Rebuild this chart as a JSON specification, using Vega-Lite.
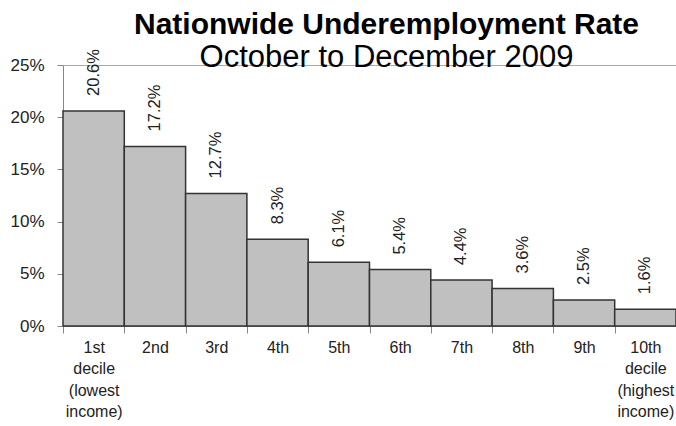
{
  "$schema": "https://vega.github.io/schema/vega-lite/v6.json",
  "width": 613,
  "height": 261,
  "autosize": {"type": "none"},
  "padding": {"left": 63, "top": 65, "right": 0, "bottom": 100},
  "config": {
    "font": "Liberation Sans",
    "view": {"stroke": null},
    "axis": {"labelFont": "Liberation Sans", "labelColor": "#222", "domainColor": "#888", "tickColor": "#888"}
  },
  "title": {
    "text": "Nationwide Underemployment Rate",
    "subtitle": "October to December 2009",
    "anchor": "middle",
    "frame": "group",
    "dx": 17,
    "offset": -24,
    "fontSize": 30,
    "fontWeight": "bold",
    "color": "#000",
    "subtitleFontSize": 31,
    "subtitleColor": "#000",
    "subtitlePadding": 3,
    "font": "Liberation Sans",
    "subtitleFont": "Liberation Sans"
  },
  "data": {
    "values": [
      {"decile": "1st|decile|(lowest|income)", "rate": 0.206},
      {"decile": "2nd", "rate": 0.172},
      {"decile": "3rd", "rate": 0.127},
      {"decile": "4th", "rate": 0.083},
      {"decile": "5th", "rate": 0.061},
      {"decile": "6th", "rate": 0.054},
      {"decile": "7th", "rate": 0.044},
      {"decile": "8th", "rate": 0.036},
      {"decile": "9th", "rate": 0.025},
      {"decile": "10th|decile|(highest|income)", "rate": 0.016}
    ]
  },
  "encoding": {
    "x": {
      "field": "decile",
      "type": "nominal",
      "sort": null,
      "scale": {"paddingInner": 0, "paddingOuter": 0},
      "axis": {
        "title": null,
        "labelAngle": 0,
        "labelExpr": "isValid(datum.value) ? split(datum.value, '|') : ''",
        "labelFontSize": 16,
        "labelLineHeight": 21.5,
        "labelPadding": 6,
        "tickBand": "extent",
        "tickSize": 7,
        "labelBaseline": "top"
      }
    },
    "y": {
      "field": "rate",
      "type": "quantitative",
      "scale": {"domain": [0, 0.25], "nice": false},
      "axis": {
        "title": null,
        "values": [0, 0.05, 0.1, 0.15, 0.2, 0.25],
        "format": ".0%",
        "labelFontSize": 17,
        "labelPadding": 13,
        "tickSize": 6,
        "grid": true,
        "gridColor": "#aaa",
        "gridOpacity": {"expr": "datum.value >= 0.25 ? 1 : 0"}
      }
    }
  },
  "layer": [
    {
      "mark": {"type": "bar", "fill": "#c0c0c0", "stroke": "#333", "strokeWidth": 1.5}
    },
    {
      "mark": {"type": "text", "angle": -90, "align": "left", "baseline": "middle", "dx": 15, "fontSize": 16.5, "color": "#222"},
      "encoding": {"text": {"field": "rate", "type": "quantitative", "format": ".1%"}}
    }
  ]
}
